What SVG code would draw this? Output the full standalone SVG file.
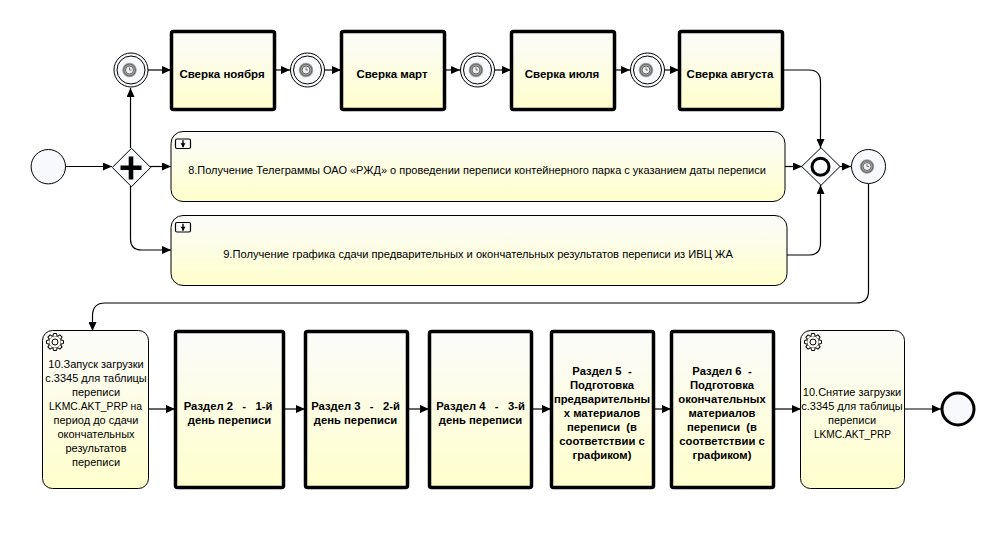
<svg xmlns="http://www.w3.org/2000/svg" width="991" height="533" viewBox="0 0 991 533">
<defs>
<linearGradient id="g" x1="0" y1="0" x2="0" y2="1"><stop offset="0" stop-color="#fbfbfb"/><stop offset="1" stop-color="#ffffcc"/></linearGradient>
<radialGradient id="tg"><stop offset="0" stop-color="#f0f0f0"/><stop offset="0.55" stop-color="#c4c4c4"/><stop offset="0.78" stop-color="#666"/><stop offset="1" stop-color="#d8d8d8"/></radialGradient>
<marker id="a" viewBox="0 0 9 8" refX="9" refY="4" markerWidth="9" markerHeight="8" markerUnits="userSpaceOnUse" orient="auto"><path d="M0 0L9 4L0 8Z" fill="#000"/></marker>
<g id="timer"><circle r="7.500" fill="url(#tg)"/><circle r="4" fill="#eee" stroke="#555" stroke-width="0.9"/><path d="M0-2.600V0H2" fill="none" stroke="#444" stroke-width="0.7"/></g>
<path id="tooth" d="M-2.100-5.800L-1.500-8.500H1.500L2.100-5.800" fill="#fdfdf4" stroke="#000" stroke-width="1"/>
<g id="gear"><circle r="6.200" fill="#fdfdf4" stroke="#000" stroke-width="1"/><use href="#tooth"/><use href="#tooth" transform="rotate(45)"/><use href="#tooth" transform="rotate(90)"/><use href="#tooth" transform="rotate(135)"/><use href="#tooth" transform="rotate(180)"/><use href="#tooth" transform="rotate(225)"/><use href="#tooth" transform="rotate(270)"/><use href="#tooth" transform="rotate(315)"/><circle r="3" fill="none" stroke="#000" stroke-width="1"/></g>
<g id="sub"><rect x="0" y="0" width="15" height="9.500" rx="1.500" fill="#fdfdfd" stroke="#000" stroke-width="1.200"/><path d="M7.500 1.200V8.200" stroke="#000" stroke-width="1.400"/><path d="M5 4.200H10L7.500 8.200Z" fill="#000"/></g>
</defs>
<style>
.t{fill:url(#g);stroke:#000;stroke-width:3.5}
.s{fill:url(#g);stroke:#000;stroke-width:1}
.c{fill:none;stroke:#000;stroke-width:1.2;marker-end:url(#a)}
.e{fill:#f8f9fc;stroke:#000;stroke-width:1}
.gw{fill:#fafbfe;stroke:#000;stroke-width:1}
text{font-family:"Liberation Sans",Arial,sans-serif;font-size:11px;text-anchor:middle;fill:#000;white-space:pre}
.b{font-weight:bold;font-size:11.500px}
.m{font-weight:bold;font-size:11.250px}
</style>
<rect width="991" height="533" fill="#fff"/>
<g id="connectors">
<path class="c" d="M65 166.500H112"/>
<path class="c" d="M130.500 148V88"/>
<path class="c" d="M150 166.500H171"/>
<path class="c" d="M130.500 186V239Q130.500 250 141.500 250H171"/>
<path class="c" d="M148 70H171"/>
<path class="c" d="M274 70H290"/>
<path class="c" d="M325 70H341"/>
<path class="c" d="M444 70H460"/>
<path class="c" d="M495 70H511"/>
<path class="c" d="M614 70H630"/>
<path class="c" d="M665 70H679"/>
<path class="c" d="M783 70H809Q820.500 70 820.500 82V148"/>
<path class="c" d="M785 166.500H802"/>
<path class="c" d="M787 255H809Q820.500 255 820.500 243V185"/>
<path class="c" d="M840 166.500H851"/>
<path class="c" d="M868.500 184V291Q868.500 303 856 303H105Q92.500 303 92.500 316V331"/>
<path class="c" d="M148 409H175"/>
<path class="c" d="M284 409H305"/>
<path class="c" d="M408 409H429"/>
<path class="c" d="M532 409H551"/>
<path class="c" d="M654 409H671"/>
<path class="c" d="M774 409H801"/>
<path class="c" d="M904 409H941"/>
</g>
<g id="start"><circle class="e" cx="48.300" cy="166.700" r="17.200"/></g>
<g id="gw-split"><path class="gw" d="M131.500 148.300L150.700 167.500L131.500 186.700L112.300 167.500Z"/><path d="M131 156.500V179.500M120.500 167.700H141.500" stroke="#000" stroke-width="4.600" fill="none"/></g>
<g id="ev1"><circle class="e" cx="131" cy="70" r="17"/><circle cx="131" cy="70" r="14" fill="none" stroke="#000"/><use href="#timer" x="129.500" y="70"/></g>
<g id="ev2"><circle class="e" cx="307.500" cy="70" r="17"/><circle cx="307.500" cy="70" r="14" fill="none" stroke="#000"/><use href="#timer" x="306" y="70"/></g>
<g id="ev3"><circle class="e" cx="477.500" cy="70" r="17"/><circle cx="477.500" cy="70" r="14" fill="none" stroke="#000"/><use href="#timer" x="476" y="70"/></g>
<g id="ev4"><circle class="e" cx="647.500" cy="70" r="17"/><circle cx="647.500" cy="70" r="14" fill="none" stroke="#000"/><use href="#timer" x="646" y="70"/></g>
<g id="t-nov"><rect class="t" x="171.500" y="31.500" width="103" height="78" rx="2"/><text class="b" x="222" y="78">Сверка ноября</text></g>
<g id="t-mar"><rect class="t" x="341.500" y="31.500" width="103" height="78" rx="2"/><text class="b" x="392" y="78">Сверка март</text></g>
<g id="t-jul"><rect class="t" x="511.500" y="31.500" width="103" height="78" rx="2"/><text class="b" x="562" y="78">Сверка июля</text></g>
<g id="t-aug"><rect class="t" x="679.500" y="31.500" width="103" height="78" rx="2"/><text class="b" x="730" y="78">Сверка августа</text></g>
<g id="sp8"><rect class="s" x="171" y="131.500" width="614" height="70" rx="12"/><use href="#sub" x="175.500" y="139"/><text x="477" y="174">8.Получение Телеграммы ОАО «РЖД» о проведении переписи контейнерного парка с указанием даты переписи</text></g>
<g id="sp9"><rect class="s" x="171" y="215.500" width="616" height="70" rx="12"/><use href="#sub" x="175.500" y="222.500"/><text x="478" y="258" style="font-size:11.150px">9.Получение графика сдачи предварительных и окончательных результатов переписи из ИВЦ ЖА</text></g>
<g id="gw-join"><path class="gw" d="M821 147.700L840 166.500L821 185.300L801.700 166.500Z"/><circle cx="820.500" cy="166.700" r="8.500" fill="none" stroke="#000" stroke-width="3"/></g>
<g id="ev5"><circle class="e" cx="868.500" cy="166.500" r="17"/><use href="#timer" x="867" y="166.500"/></g>
<g id="t10a"><rect class="s" x="42.500" y="330.500" width="106" height="158" rx="10"/><use href="#gear" x="55" y="342"/><text x="96" y="368">10.Запуск загрузки</text><text x="96" y="382">с.3345 для таблицы</text><text x="96" y="396">переписи</text><text x="95.500" y="410" textLength="93" lengthAdjust="spacingAndGlyphs">LKMC.AKT_PRP на</text><text x="96" y="424">период до сдачи</text><text x="96" y="438">окончательных</text><text x="96" y="452">результатов</text><text x="96" y="466">переписи</text></g>
<g id="r2"><rect class="t" x="175.500" y="331.500" width="108" height="156" rx="2"/><text class="m" x="228" y="410">Раздел 2   -   1-й</text><text class="m" x="229.500" y="424">день переписи</text></g>
<g id="r3"><rect class="t" x="305.500" y="331.500" width="102" height="156" rx="2"/><text class="m" x="355.500" y="410">Раздел 3   -   2-й</text><text class="m" x="355.500" y="424">день переписи</text></g>
<g id="r4"><rect class="t" x="429.500" y="331.500" width="102" height="156" rx="2"/><text class="m" x="480.500" y="410">Раздел 4   -   3-й</text><text class="m" x="480.500" y="424">день переписи</text></g>
<g id="r5"><rect class="t" x="551.500" y="331.500" width="102" height="156" rx="2"/><text class="m" x="602" y="375">Раздел 5  -</text><text class="m" x="602" y="389">Подготовка</text><text class="m" x="602" y="403">предварительны</text><text class="m" x="602" y="417">х материалов</text><text class="m" x="602" y="431">переписи  (в</text><text class="m" x="602" y="445">соответствии с</text><text class="m" x="602" y="459">графиком)</text></g>
<g id="r6"><rect class="t" x="671.500" y="331.500" width="102" height="156" rx="2"/><text class="m" x="722" y="375">Раздел 6  -</text><text class="m" x="722" y="389">Подготовка</text><text class="m" x="722" y="403">окончательных</text><text class="m" x="722" y="417">материалов</text><text class="m" x="722" y="431">переписи  (в</text><text class="m" x="722" y="445">соответствии с</text><text class="m" x="722" y="459">графиком)</text></g>
<g id="t10b"><rect class="s" x="800.500" y="330.500" width="104" height="158" rx="10"/><use href="#gear" x="813" y="342"/><text x="852" y="396">10.Снятие загрузки</text><text x="852" y="410">с.3345 для таблицы</text><text x="852" y="424">переписи</text><text x="852.500" y="438" textLength="77" lengthAdjust="spacingAndGlyphs">LKMC.AKT_PRP</text></g>
<g id="end"><circle cx="958" cy="409" r="16" fill="#f8f9fc" stroke="#000" stroke-width="3"/></g>
</svg>
